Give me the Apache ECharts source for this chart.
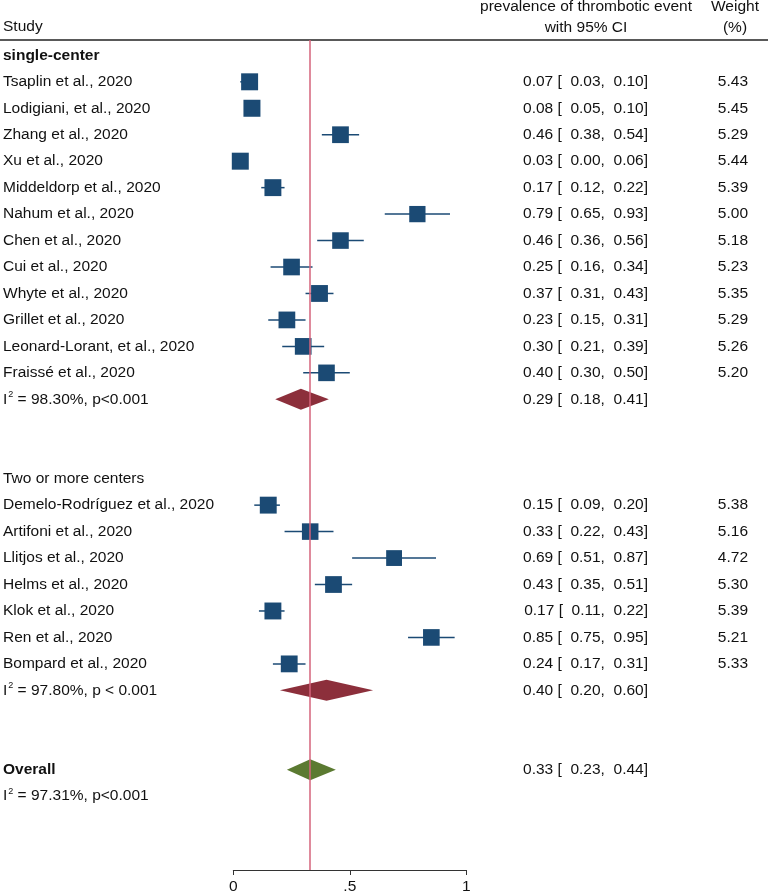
<!DOCTYPE html>
<html>
<head>
<meta charset="utf-8">
<script src="https://cdn.jsdelivr.net/npm/echarts@6/dist/echarts.min.js"></script>
<style>
html, body { margin: 0; padding: 0; background: #fff; }
#chart { width: 768px; height: 895px; }
</style>
</head>
<body>
<div id="chart"></div>
<script>
// single-center studies
var singleNames = ['Tsaplin et al., 2020', 'Lodigiani, et al., 2020', 'Zhang et al., 2020', 'Xu et al., 2020',
  'Middeldorp et al., 2020', 'Nahum et al., 2020', 'Chen et al., 2020', 'Cui et al., 2020',
  'Whyte et al., 2020', 'Grillet et al., 2020', 'Leonard-Lorant, et al., 2020', 'Fraissé et al., 2020'];
var singleEst = [0.07, 0.08, 0.46, 0.03, 0.17, 0.79, 0.46, 0.25, 0.37, 0.23, 0.30, 0.40];
var singleLo = [0.03, 0.05, 0.38, 0.00, 0.12, 0.65, 0.36, 0.16, 0.31, 0.15, 0.21, 0.30];
var singleHi = [0.10, 0.10, 0.54, 0.06, 0.22, 0.93, 0.56, 0.34, 0.43, 0.31, 0.39, 0.50];
var singleWeight = [5.43, 5.45, 5.29, 5.44, 5.39, 5.00, 5.18, 5.23, 5.35, 5.29, 5.26, 5.20];

// two or more centers
var multiNames = ['Demelo-Rodríguez et al., 2020', 'Artifoni et al., 2020', 'Llitjos et al., 2020',
  'Helms et al., 2020', 'Klok et al., 2020', 'Ren et al., 2020', 'Bompard et al., 2020'];
var multiEst = [0.15, 0.33, 0.69, 0.43, 0.17, 0.85, 0.24];
var multiLo = [0.09, 0.22, 0.51, 0.35, 0.11, 0.75, 0.17];
var multiHi = [0.20, 0.43, 0.87, 0.51, 0.22, 0.95, 0.31];
var multiWeight = [5.38, 5.16, 4.72, 5.30, 5.39, 5.21, 5.33];

// pooled estimates: single-center, two or more, overall
var pooledEst = [0.29, 0.40, 0.33];
var pooledLo = [0.18, 0.20, 0.23];
var pooledHi = [0.41, 0.60, 0.44];
var pooledHet = ['98.30%, p<0.001', '97.80%, p < 0.001', '97.31%, p<0.001'];
var pooledColors = ['#8c2f3b', '#8c2f3b', '#5b7a31'];

var xTicks = ['0', '.5', '1'];

var FONT = '15.5px "Liberation Sans", Arial, sans-serif';
var BOLD = 'bold 15.5px "Liberation Sans", Arial, sans-serif';
var INK = '#111';

// build the row layout
var studyRows = [];   // [row, est, lo, hi, weight]
var textRows = [];    // {row, label, bold, est, lo, hi, w, het}
var pooledRows = [];  // [row, est, lo, hi, idx]

textRows.push({ row: 0, label: 'single-center', bold: true });
singleNames.forEach(function (n, i) {
  var r = 1 + i;
  studyRows.push([r, singleEst[i], singleLo[i], singleHi[i], singleWeight[i]]);
  textRows.push({ row: r, label: n, est: singleEst[i], lo: singleLo[i], hi: singleHi[i], w: singleWeight[i] });
});
var r1 = singleNames.length + 1;
pooledRows.push([r1, pooledEst[0], pooledLo[0], pooledHi[0], 0]);
textRows.push({ row: r1, het: pooledHet[0], est: pooledEst[0], lo: pooledLo[0], hi: pooledHi[0] });

var g2 = r1 + 3;
textRows.push({ row: g2, label: 'Two or more centers' });
multiNames.forEach(function (n, i) {
  var r = g2 + 1 + i;
  studyRows.push([r, multiEst[i], multiLo[i], multiHi[i], multiWeight[i]]);
  textRows.push({ row: r, label: n, est: multiEst[i], lo: multiLo[i], hi: multiHi[i], w: multiWeight[i] });
});
var r2 = g2 + multiNames.length + 1;
pooledRows.push([r2, pooledEst[1], pooledLo[1], pooledHi[1], 1]);
textRows.push({ row: r2, het: pooledHet[1], est: pooledEst[1], lo: pooledLo[1], hi: pooledHi[1] });

var r3 = r2 + 3;
pooledRows.push([r3, pooledEst[2], pooledLo[2], pooledHi[2], 2]);
textRows.push({ row: r3, label: 'Overall', bold: true, est: pooledEst[2], lo: pooledLo[2], hi: pooledHi[2] });
textRows.push({ row: r3 + 1, het: pooledHet[2] });

function f2(v) { return v.toFixed(2); }
function ciText(t) {
  return f2(t.est) + ' [  ' + f2(t.lo) + ',  ' + f2(t.hi) + ']';
}

var chart = echarts.init(document.getElementById('chart'));

var option = {
  animation: false,
  backgroundColor: '#fff',
  grid: { left: 233.3, width: 233, top: 40, height: 832.7 },
  xAxis: {
    type: 'value', min: 0, max: 1, interval: 0.5, position: 'bottom',
    axisLine: { show: true, onZero: false, lineStyle: { color: '#333', width: 1 } },
    axisTick: { show: true, length: 5, lineStyle: { color: '#333' } },
    axisLabel: {
      margin: 9, color: INK, fontSize: 15.5, fontFamily: '"Liberation Sans", Arial',
      formatter: function (v) { return xTicks[Math.round(v * 2)]; }
    },
    splitLine: { show: false }
  },
  yAxis: { type: 'value', inverse: true, min: -0.58, max: 30.79, show: false },
  graphic: [
    { type: 'text', x: 3, y: 27, style: { text: 'Study', font: FONT, fill: INK, verticalAlign: 'middle' } },
    { type: 'text', x: 586, y: 7, style: { text: 'prevalence of thrombotic event', font: FONT, fill: INK, align: 'center', verticalAlign: 'middle' } },
    { type: 'text', x: 586, y: 28, style: { text: 'with 95% CI', font: FONT, fill: INK, align: 'center', verticalAlign: 'middle' } },
    { type: 'text', x: 735, y: 7, style: { text: 'Weight', font: FONT, fill: INK, align: 'center', verticalAlign: 'middle' } },
    { type: 'text', x: 735, y: 28, style: { text: '(%)', font: FONT, fill: INK, align: 'center', verticalAlign: 'middle' } },
    { type: 'line', shape: { x1: 0, y1: 40, x2: 768, y2: 40 }, style: { stroke: '#222', lineWidth: 1.5 } }
  ],
  series: [
    {
      type: 'custom',
      name: 'pooled',
      data: pooledRows,
      encode: { x: [1, 2, 3], y: 0 },
      renderItem: function (params, api) {
        var row = api.value(0);
        var c = api.coord([api.value(1), row]);
        var l = api.coord([api.value(2), row]);
        var h = api.coord([api.value(3), row]);
        var hh = 10.5;
        return {
          type: 'polygon',
          shape: { points: [[l[0], c[1]], [c[0], c[1] - hh], [h[0], c[1]], [c[0], c[1] + hh]] },
          style: { fill: pooledColors[api.value(4)] }
        };
      },
      markLine: {
        silent: true, symbol: 'none', label: { show: false },
        lineStyle: { color: '#d5637b', width: 1.5, type: 'solid' },
        data: [{ xAxis: pooledEst[2] }]
      },
      z: 3
    },
    {
      type: 'custom',
      name: 'studies',
      data: studyRows,
      encode: { x: [1, 2, 3], y: 0 },
      renderItem: function (params, api) {
        var row = api.value(0);
        var c = api.coord([api.value(1), row]);
        var l = api.coord([api.value(2), row]);
        var h = api.coord([api.value(3), row]);
        var s = 17 * Math.sqrt(api.value(4) / 5.45);
        return {
          type: 'group',
          children: [
            { type: 'line', shape: { x1: l[0], y1: c[1], x2: h[0], y2: c[1] }, style: { stroke: '#1b4a74', lineWidth: 1.5 } },
            { type: 'rect', shape: { x: c[0] - s / 2, y: c[1] - s / 2, width: s, height: s }, style: { fill: '#1b4a74' } }
          ]
        };
      },
      z: 4
    },
    {
      type: 'custom',
      name: 'text',
      data: textRows.map(function (t) { return [0, t.row]; }),
      encode: { x: 0, y: 1 },
      clip: false,
      silent: true,
      renderItem: function (params, api) {
        var t = textRows[params.dataIndex];
        var y = api.coord([0, api.value(1)])[1];
        var kids = [];
        if (t.label) {
          kids.push({ type: 'text', x: 3, y: y, style: { text: t.label, font: t.bold ? BOLD : FONT, fill: INK, verticalAlign: 'middle' } });
        }
        if (t.het) {
          kids.push({
            type: 'text', x: 3, y: y,
            style: {
              text: '{i|I}{s|2}{i| = ' + t.het + '}', verticalAlign: 'middle', fill: INK,
              rich: {
                i: { font: FONT, fill: INK },
                s: { font: '9px "Liberation Sans", Arial', fill: INK, padding: [0, 0, 9, 1] }
              }
            }
          });
        }
        if (t.est !== undefined) {
          kids.push({ type: 'text', x: 648, y: y, style: { text: ciText(t), font: FONT, fill: INK, align: 'right', verticalAlign: 'middle' } });
        }
        if (t.w !== undefined) {
          kids.push({ type: 'text', x: 748, y: y, style: { text: f2(t.w), font: FONT, fill: INK, align: 'right', verticalAlign: 'middle' } });
        }
        return { type: 'group', children: kids };
      },
      z: 5
    }
  ]
};

chart.setOption(option);
</script>
</body>
</html>
